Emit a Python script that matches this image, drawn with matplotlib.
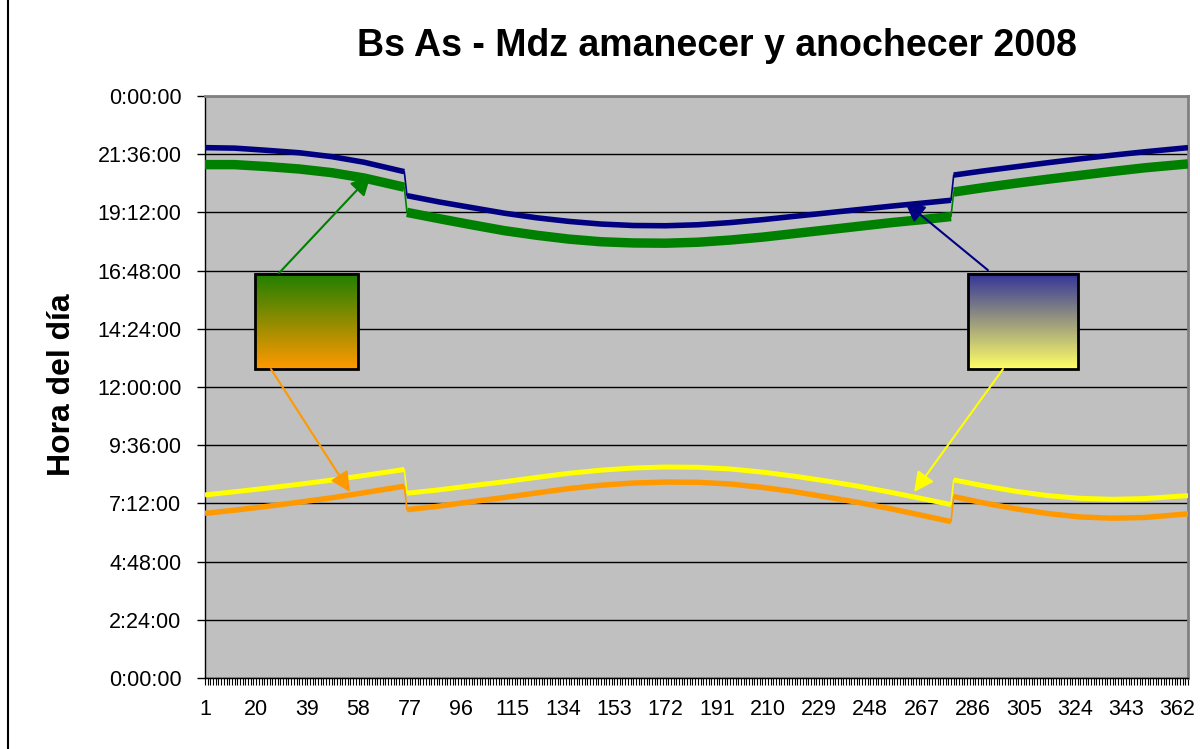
import matplotlib
matplotlib.use("Agg")
import matplotlib.pyplot as plt
import matplotlib.colors as mcolors
import numpy as np
from matplotlib.patches import Rectangle
from matplotlib.lines import Line2D
from matplotlib.ticker import FixedLocator, FuncFormatter, MultipleLocator

plt.rcParams["font.family"] = ["Liberation Sans", "DejaVu Sans"]

# dia del año 2008 donde se leyo cada valor
days = [1, 12, 24, 36, 48, 60, 75, 76, 88, 100, 112, 124, 136, 148, 160, 172,
        184, 196, 208, 220, 232, 244, 256, 268, 278, 279, 290, 302, 314, 326,
        338, 350, 366]

# horas locales (decimales)
mdz_anochecer = [21.87, 21.85, 21.76, 21.66, 21.50, 21.27, 20.88, 19.89, 19.63,
                 19.40, 19.17, 18.98, 18.83, 18.72, 18.66, 18.65, 18.69, 18.78,
                 18.90, 19.04, 19.18, 19.32, 19.46, 19.59, 19.70, 20.74, 20.91,
                 21.08, 21.25, 21.41, 21.56, 21.70, 21.87]
bsas_anochecer = [21.17, 21.17, 21.09, 20.99, 20.84, 20.62, 20.24, 19.20, 18.94,
                  18.69, 18.45, 18.26, 18.10, 17.99, 17.94, 17.93, 17.97, 18.06,
                  18.18, 18.33, 18.48, 18.63, 18.78, 18.91, 19.03, 20.04, 20.22,
                  20.40, 20.57, 20.73, 20.89, 21.04, 21.20]
mdz_amanecer = [7.55, 7.68, 7.83, 7.99, 8.16, 8.35, 8.60, 7.62, 7.76, 7.93, 8.09,
                8.27, 8.44, 8.57, 8.66, 8.70, 8.69, 8.62, 8.49, 8.32, 8.12, 7.90,
                7.65, 7.38, 7.15, 8.17, 7.93, 7.70, 7.52, 7.41, 7.37, 7.40, 7.52]
bsas_amanecer = [6.79, 6.92, 7.08, 7.25, 7.43, 7.64, 7.91, 6.94, 7.09, 7.27, 7.44,
                 7.63, 7.81, 7.95, 8.04, 8.08, 8.07, 8.00, 7.86, 7.68, 7.46, 7.23,
                 6.97, 6.69, 6.45, 7.48, 7.22, 6.98, 6.78, 6.64, 6.59, 6.62, 6.77]

x_labels = [1, 20, 39, 58, 77, 96, 115, 134, 153, 172, 191, 210, 229, 248, 267,
            286, 305, 324, 343, 362]

series = [
    (mdz_anochecer, "#000080", 4.0),
    (bsas_anochecer, "#008000", 6.8),
    (mdz_amanecer, "#FFFF00", 3.6),
    (bsas_amanecer, "#FF9900", 3.9),
]


def segments(x, y):
    x = np.asarray(x)
    y = np.asarray(y)
    cut = np.where(np.abs(np.diff(y)) > 0.5)[0] + 1
    return zip(np.split(x, cut), np.split(y, cut))


def hms(h, pos=None):
    m = int(round(h * 60))
    return f"{(m // 60) % 24}:{m % 60:02d}:00"


def gradient_box(ax, x0, x1, y0, y1, top, bottom):
    t = np.linspace(0, 1, 120)[:, None]
    c0 = np.array(mcolors.to_rgb(top))
    c1 = np.array(mcolors.to_rgb(bottom))
    img = (c0 * (1 - t) + c1 * t)[:, None, :]
    ax.imshow(img, extent=(x0, x1, y0, y1), origin="upper", aspect="auto",
              zorder=5, interpolation="bilinear")
    ax.add_patch(Rectangle((x0, y0), x1 - x0, y1 - y0, fill=False,
                           ec="black", lw=2, zorder=6))


def arrow(ax, start, tip, color):
    ax.annotate("", xy=tip, xytext=start, zorder=7,
                arrowprops=dict(arrowstyle="-|>", color=color, lw=1.5,
                                mutation_scale=30, shrinkA=0, shrinkB=0))


fig = plt.figure(figsize=(12, 7.49), dpi=100)
ax = fig.add_axes([205 / 1200, 1 - 678 / 749, 983 / 1200, 582 / 749])
ax.set_facecolor("#C0C0C0")

for y, color, lw in series:
    ax.plot(days, y, color=color, lw=1.2, zorder=3)
    for xs, ys in segments(days, y):
        ax.plot(xs, ys, color=color, lw=lw, solid_capstyle="butt", zorder=3)

gradient_box(ax, 19.6, 57.8, 12.74, 16.66, "#1F7F00", "#FF9900")
gradient_box(ax, 284.3, 325.2, 12.74, 16.66, "#333399", "#FFFF66")
arrow(ax, (28.5, 16.70), (62.5, 20.72), "#008000")
arrow(ax, (25.5, 12.74), (54.8, 7.67), "#FF9900")
arrow(ax, (291.7, 16.82), (260.9, 19.63), "#000080")
arrow(ax, (297.3, 12.74), (264.3, 7.67), "#FFFF00")

ax.set_xlim(1, 366)
ax.set_ylim(0, 24)
ax.yaxis.set_major_locator(MultipleLocator(2.4))
ax.yaxis.set_major_formatter(FuncFormatter(hms))
ax.grid(axis="y", color="black", lw=1, zorder=1)
ax.set_axisbelow(True)

ax.xaxis.set_major_locator(FixedLocator(x_labels))
ax.xaxis.set_minor_locator(MultipleLocator(1))
ax.tick_params(axis="x", which="both", length=5, width=0.8, direction="out",
               labelsize=15.5, pad=10)
ax.tick_params(axis="y", length=6, width=1, direction="out", labelsize=15.5,
               pad=11)

for side in ("left", "bottom"):
    ax.spines[side].set_color("black")
    ax.spines[side].set_linewidth(1)
for side in ("right", "top"):
    ax.spines[side].set_color("#808080")
    ax.spines[side].set_linewidth(2)

fig.text(717 / 1200, 1 - 46 / 749, "Bs As - Mdz amanecer y anochecer 2008",
         ha="center", va="center", fontsize=27, fontweight="bold")
fig.text(62 / 1200, 1 - 385 / 749, "Hora del día", ha="center", va="center",
         rotation=90, fontsize=23, fontweight="bold")

fig.add_artist(Line2D([7.5 / 1200, 7.5 / 1200], [0, 1], color="black", lw=1.5,
                      transform=fig.transFigure))

fig.savefig("out.png", dpi=100)
